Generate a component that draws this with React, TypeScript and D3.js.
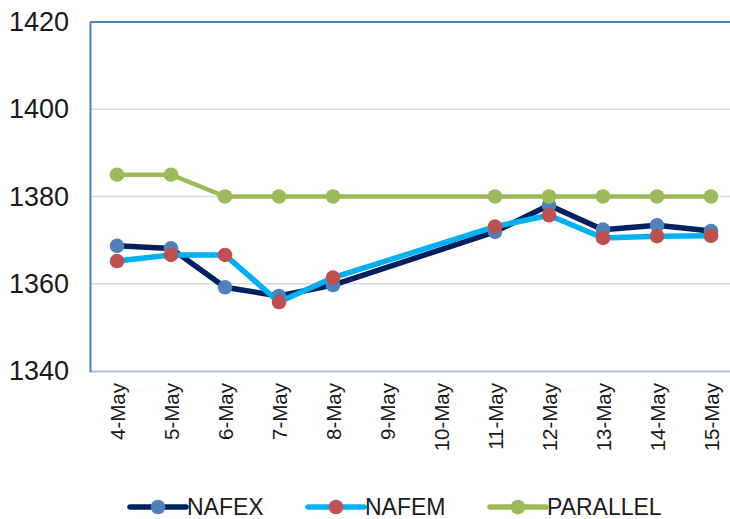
import * as d3 from 'd3'

const categories = ['4-May', '5-May', '6-May', '7-May', '8-May', '9-May', '10-May', '11-May', '12-May', '13-May', '14-May', '15-May']
const nafex = [1368.7, 1368.1, 1359.2, 1357.2, 1359.7, null, null, 1371.9, 1378.0, 1372.4, 1373.4, 1372.1]
const nafem = [1365.2, 1366.6, 1366.6, 1355.8, 1361.4, null, null, 1373.1, 1375.7, 1370.5, 1370.9, 1371.0]
const parallel = [1385, 1385, 1380, 1380, 1380, null, null, 1380, 1380, 1380, 1380, 1380]
const yTicks = [1340, 1360, 1380, 1400, 1420]

const series = [
  { name: 'NAFEX', values: nafex, line: '#002060', marker: '#4f81bd', width: 5.5 },
  { name: 'NAFEM', values: nafem, line: '#00b0f0', marker: '#c0504d', width: 5.5 },
  { name: 'PARALLEL', values: parallel, line: '#9bbb59', marker: '#9bbb59', width: 4.5 },
]

const W = 730
const H = 519
const font = '"Liberation Sans", Arial, sans-serif'

export default function App() {
  const left = 90
  const top = 22
  const bottom = 371

  const x = d3.scaleBand<string>().domain(categories).range([left, left + 54 * 12]).padding(0)
  const y = d3.scaleLinear().domain([1340, 1420]).range([bottom, top])
  const cx = (c: string) => (x(c) ?? 0) + x.bandwidth() / 2

  type Pt = { c: string; v: number | null }
  const line = d3.line<Pt>()
    .x(d => cx(d.c))
    .y(d => y(d.v as number))

  const legendX = [130, 308, 490]

  return (
    <svg width={W} height={H} style={{ position: 'absolute', left: 0, top: 0 }} fontFamily={font}>
      <rect width={W} height={H} fill="#fff" />
      {yTicks.filter(t => t > 1340 && t < 1420).map(t => (
        <line key={t} x1={left} x2={W} y1={y(t)} y2={y(t)} stroke="#d9d9d9" strokeWidth={1.5} />
      ))}
      {yTicks.map(t => (
        <text key={t} x={69} y={y(t)} dominantBaseline="central" textAnchor="end" fontSize={27} fill="#1a1a1a">
          {t}
        </text>
      ))}
      <line x1={left} x2={W} y1={top} y2={top} stroke="#4f81bd" strokeWidth={2} />
      <line x1={left} x2={W} y1={bottom + 0.5} y2={bottom + 0.5} stroke="#a9c1df" strokeWidth={2} />
      <line x1={left + 0.5} x2={left + 0.5} y1={top} y2={bottom + 1.5} stroke="#4f81bd" strokeWidth={2} />

      {categories.map(c => (
        <text key={c} transform={`translate(${cx(c)},383) rotate(-90)`} textAnchor="end"
          dominantBaseline="central" fontSize={20.5} fill="#1a1a1a">
          {c}
        </text>
      ))}

      {series.map(s => {
        const pts: Pt[] = categories.map((c, i) => ({ c, v: s.values[i] })).filter(d => d.v !== null)
        return (
          <g key={s.name}>
            <path d={line(pts) ?? ''} fill="none" stroke={s.line} strokeWidth={s.width} strokeLinejoin="round" />
            {pts.map(p => (
              <circle key={p.c} cx={cx(p.c)} cy={y(p.v as number)} r={7.3} fill={s.marker} />
            ))}
          </g>
        )
      })}

      {series.map((s, i) => (
        <g key={s.name} transform={`translate(${legendX[i]},507)`}>
          <line x1={0} x2={56} stroke={s.line} strokeWidth={5.5} strokeLinecap="round" />
          <circle cx={28} cy={0} r={7.3} fill={s.marker} />
          <text x={57} y={0} dominantBaseline="central" fontSize={23} fill="#1a1a1a">{s.name}</text>
        </g>
      ))}
    </svg>
  )
}
